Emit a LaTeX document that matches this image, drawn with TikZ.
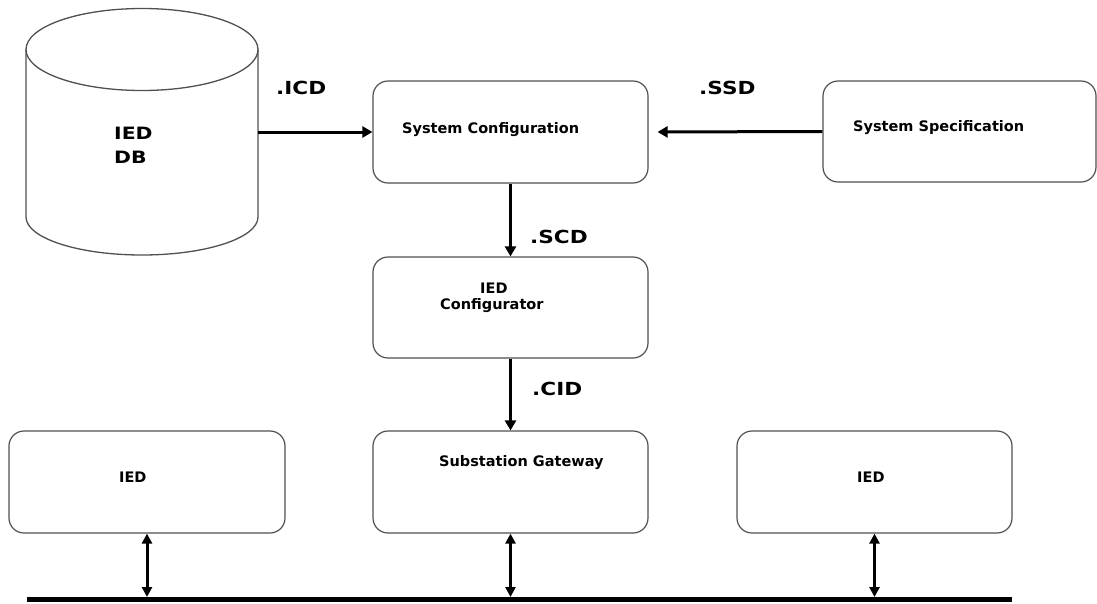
\documentclass[tikz,border=0pt]{standalone}
\usepackage{fontspec}
\setmainfont{DejaVu Sans}
\newfontfamily\lblfont{DejaVu Sans}[FakeStretch=1.2]
\usetikzlibrary{arrows.meta}
\definecolor{boxgray}{HTML}{505050}
\tikzset{
  box/.style={draw=boxgray, line width=1.2pt, rounded corners=15pt, fill=white, inner sep=0pt},
  boxtext/.style={anchor=west, inner sep=0pt, font=\bfseries\fontsize{14.5}{17}\selectfont},
  ftext/.style={anchor=west, inner sep=0pt, font=\lblfont\bfseries\fontsize{18}{22}\selectfont},
  arr/.style={line width=3pt, -{Triangle[length=10pt,width=11pt]}},
  darr/.style={line width=3pt, {Triangle[length=10pt,width=10pt]}-{Triangle[length=10pt,width=10pt]}},
  cyl/.style={draw=boxgray, line width=1.3pt, fill=white}
}
\begin{document}
\begin{tikzpicture}[x=1pt,y=-1pt]
\useasboundingbox (0,0) rectangle (1097,603);
% database cylinder
\filldraw[cyl] (26,49.5) -- (26,217) arc[start angle=180,end angle=0,x radius=116,y radius=38] -- (258,49.5) -- cycle;
\draw[cyl] (142,49.5) ellipse[x radius=116, y radius=41];
\coordinate (db) at (258,132);
\node[ftext, align=left, font=\lblfont\bfseries\fontsize{17}{24}\selectfont] (dbtext) at (114,145) {IED\\DB};
% boxes
\node[box, minimum width=275pt, minimum height=102pt] (sc) at (510.5,132) {};
\node[box, minimum width=273pt, minimum height=101pt] (ss) at (959.5,131.5) {};
\node[box, minimum width=275pt, minimum height=101pt] (ic) at (510.5,307.5) {};
\node[box, minimum width=275pt, minimum height=102pt] (gw) at (510.5,482) {};
\node[box, minimum width=276pt, minimum height=102pt] (iedL) at (147,482) {};
\node[box, minimum width=275pt, minimum height=102pt] (iedR) at (874.5,482) {};
% box texts
\node[boxtext] (sctext) at (402,130) {System Configuration};
\node[boxtext] (sstext) at (853,128) {System Specification};
\node[boxtext] (ictext1) at (480,288) {IED};
\node[boxtext] (ictext2) at (440,306) {Configurator};
\node[boxtext] (gwtext) at (439,463) {Substation Gateway};
\node[boxtext] (iedLtext) at (119,477) {IED};
\node[boxtext] (iedRtext) at (857,477) {IED};
% file labels
\node[ftext] (icd) at (276,88) {.ICD};
\node[ftext] (ssd) at (699,88) {.SSD};
\node[ftext] (scd) at (530,237) {.SCD};
\node[ftext] (cid) at (532,389) {.CID};
% arrows
\draw[arr] (db) -- (sc.west |- db);
\draw[arr, shorten >=9pt] (ss.west) -- (sc.east);
\draw[arr] (sc.south) -- (ic.north);
\draw[arr] (ic.south) -- (gw.north);
% bus
\coordinate (busL) at (27,599.5);
\coordinate (busR) at (1012,599.5);
\draw[line width=5pt] (busL) -- (busR);
\draw[darr, shorten >=2.5pt] (iedL.south) -- (iedL.south |- busL);
\draw[darr, shorten >=2.5pt] (gw.south) -- (gw.south |- busL);
\draw[darr, shorten >=2.5pt] (iedR.south) -- (iedR.south |- busL);
\end{tikzpicture}
\end{document}
